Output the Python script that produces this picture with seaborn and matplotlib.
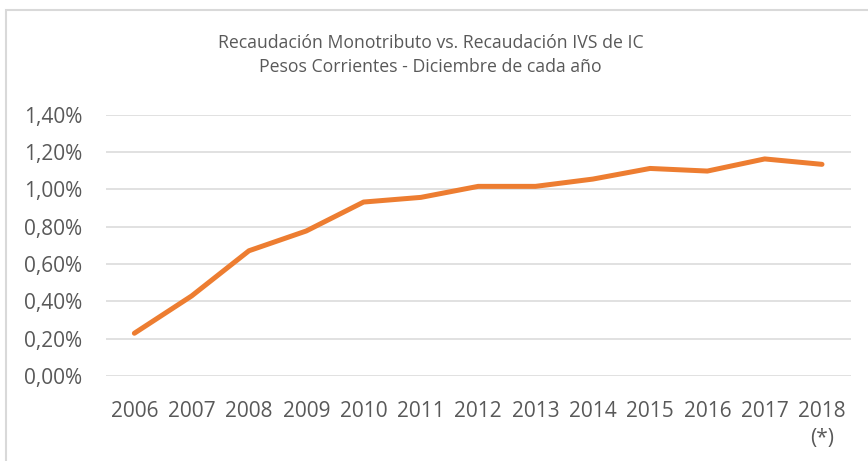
import pandas as pd
import seaborn as sns
import matplotlib.pyplot as plt
from matplotlib.patches import Rectangle
from matplotlib.ticker import FuncFormatter

# Data (% of IVS de IC)
years = ["2006", "2007", "2008", "2009", "2010", "2011", "2012",
         "2013", "2014", "2015", "2016", "2017", "2018\n(*)"]
ratio = [0.229, 0.429, 0.671, 0.777, 0.932, 0.957, 1.016,
         1.016, 1.055, 1.112, 1.098, 1.163, 1.134]

df = pd.DataFrame({"year": years, "ratio": ratio})

sns.set_style("white")
plt.rcParams["font.family"] = ["Open Sans", "DejaVu Sans"]

gray = "#595959"
fig = plt.figure(figsize=(8.68, 4.61), dpi=100)
ax = fig.add_axes([0.1218, 0.1844, 0.8582, 0.5668])

sns.lineplot(data=df, x="year", y="ratio", ax=ax, color="#ED7D31",
             linewidth=3.6, solid_capstyle="round", sort=False)

ax.set_xlim(-0.5, len(years) - 0.5)
ax.set_ylim(0, 1.4)
ax.set_yticks([0, 0.2, 0.4, 0.6, 0.8, 1.0, 1.2, 1.4])
ax.yaxis.set_major_formatter(FuncFormatter(lambda v, p: f"{v:.2f}%".replace(".", ",")))
ax.grid(axis="y", color="#D9D9D9", linewidth=1.1)
ax.set_axisbelow(True)
sns.despine(ax=ax, left=True, bottom=True, top=True, right=True)
ax.tick_params(axis="y", length=0, pad=17, labelsize=15, labelcolor=gray)
ax.tick_params(axis="x", length=0, pad=18, labelsize=15, labelcolor=gray)
for lbl in ax.get_xticklabels():
    lbl.set_linespacing(1.35)
ax.set_xlabel("")
ax.set_ylabel("")

fig.text(0.496, 0.907, "Recaudación Monotributo vs. Recaudación IVS de IC",
         ha="center", va="center", fontsize=12.7, color=gray)
fig.text(0.496, 0.855, "Pesos Corrientes - Diciembre de cada año",
         ha="center", va="center", fontsize=12.7, color=gray)

# chart frame (top and left edges visible)
fig.patches.append(Rectangle((6 / 868, -0.1), 1.2, 1.1 - 10 / 461,
                             transform=fig.transFigure, fill=False,
                             edgecolor="#D9D9D9", linewidth=1.5))

fig.savefig("out.png", dpi=100)
